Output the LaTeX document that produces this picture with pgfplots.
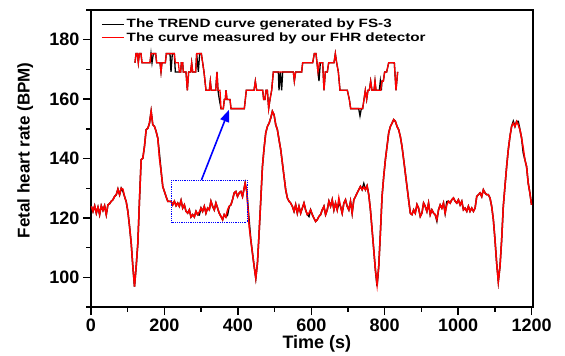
\documentclass[border=0pt]{standalone}
\usepackage{fontspec}
\setmainfont{Liberation Sans}
\newfontfamily\legfont[FakeStretch=1.27]{Liberation Sans}
\usepackage{pgfplots}
\pgfplotsset{compat=1.18}
\usetikzlibrary{arrows.meta}

\begin{document}
\begin{tikzpicture}
\begin{axis}[
  name=main, at={(0,0)}, anchor=south west,
  width=442pt, height=297pt, scale only axis,
  xmin=0, xmax=1204, ymin=90, ymax=190,
  xtick={0,200,...,1200}, ytick={100,120,...,180},
  minor xtick={100,300,...,1100}, minor ytick={90,110,...,190},
  tick pos=left, tick align=outside,
  major tick length=8pt, minor tick length=4.5pt,
  every tick/.append style={black, line width=1.4pt},
  axis line style={line width=1.6pt},
  /pgf/number format/assume math mode=true,
  /pgf/number format/1000 sep={},
  tick label style={font=\bfseries\fontsize{18}{20}\selectfont},
  xlabel={Time (s)}, ylabel={Fetal heart rate (BPM)},
  xlabel style={font=\bfseries\fontsize{18}{20}\selectfont, at={(axis description cs:0.511,-0.125)}, anchor=center},
  ylabel style={font=\bfseries\fontsize{17}{20}\selectfont, at={(axis description cs:-0.149,0.528)}, anchor=center, rotate=0},
  clip=false,
  legend style={draw=none, fill=none, at={(0,1)}, anchor=north west, xshift=7pt, yshift=-5pt,
    font=\legfont\bfseries\fontsize{12}{14}\selectfont, cells={anchor=west}, row sep=-1pt},
  legend image code/.code={\draw[#1, line width=1.5pt] (0pt,0pt) -- (22pt,0pt);},
]
\addplot[black, line width=1.5pt] table {
x y
0.9 123.9
5.4 122.2
10 124.1
14.5 121.6
19 123.6
23.5 121.1
28 124.1
32.6 122.5
37.1 124.1
41.6 121.1
46.1 124.4
50.7 124.8
55.2 125.6
59.7 126.1
64.2 127.2
68.8 127.8
73.3 129.7
77.8 127.8
82.4 130.0
86.9 129.0
91.4 127.2
95.9 125.5
100.4 122.2
105 117.1
109.5 111.5
114 103.6
118.5 96.9
123.1 103.7
127.6 111.5
132.1 126.1
136.6 139.6
141.2 140.1
145.7 144.1
150.2 149.7
154.8 150.2
159.3 151.9
163.8 155.9
168.3 151.4
172.9 150.8
177.4 149.1
181.9 146.9
186.4 141.5
191 135.7
195.5 130.6
200 128.9
204.5 127.2
209.1 125.6
218.1 125.6
222.6 124.4
227.2 125.6
231.7 124.1
236.2 125.0
240.7 123.9
245.3 125.9
249.8 123.3
254.3 124.4
258.8 122.2
263.4 121.6
267.9 122.7
272.4 120.3
276.9 121.1
281.5 120.3
286 122.2
290.5 121.1
295 121.0
299.6 123.3
304.1 122.2
308.6 123.9
313.1 121.6
317.7 123.3
322.2 122.7
326.7 125.6
331.2 123.9
335.8 122.7
340.3 125.0
344.8 123.3
349.3 121.6
353.9 120.5
358.4 119.4
362.9 121.1
367.4 120.3
372 121.0
376.5 123.9
381 124.4
385.5 126.1
390.1 128.4
394.6 128.9
399.1 127.2
403.6 128.4
408.2 128.9
412.7 127.2
417.2 130.0
419.9 131.7
424.4 128.9
430.8 119.0
435.3 112.6
439.8 108.2
444.4 103.7
448.9 99.7
453.4 104.8
457.9 114.9
462.5 126.1
467 137.3
471.5 143.5
476 148.6
480.6 150.8
485.1 151.9
489.6 153.6
494.1 155.9
498.7 154.7
503.2 151.4
507.7 149.7
512.2 146.3
516.8 143.0
521.3 138.5
525.8 134.0
530.3 129.5
534.9 126.7
539.4 125.6
543.9 125.0
548.4 123.9
553 122.2
557.5 124.4
562 121.6
566.5 123.9
571.1 121.6
575.6 123.3
580.1 125.0
584.6 122.7
589.2 121.1
593.7 120.5
598.2 122.7
602.8 121.1
607.3 119.9
611.8 118.8
616.4 119.4
620.9 120.5
625.4 121.1
629.9 122.7
634.5 123.9
639 121.1
643.5 122.7
648 125.6
652.6 123.9
657.1 126.1
661.6 122.7
666.1 125.0
670.7 122.7
675.2 125.0
679.7 123.9
684.2 121.6
688.8 125.0
693.3 126.1
697.8 123.9
702.3 122.7
706.9 125.6
711.4 121.6
715.9 126.1
720.4 127.2
725 128.4
729.5 129.5
734 130.6
738.5 129.5
743.1 131.5
747.6 129.5
752.1 130.8
756.6 127.8
761.2 122.7
765.7 116.0
770.2 109.3
774.7 102.5
779.3 97.0
783.8 103.7
788.3 114.9
792.8 127.2
797.4 134.0
801.9 139.6
806.4 144.1
810.9 148.6
815.5 150.8
820 151.9
824.5 153.1
829 152.5
833.6 150.8
838.1 149.7
842.6 147.4
847.1 144.1
851.7 139.6
856.2 135.1
860.7 130.6
865.2 126.1
869.8 121.6
874.3 121.1
878.8 122.7
883.3 121.6
888 124.5
892.3 123.3
896.9 120.5
901.4 121.6
905.9 125.0
910.4 123.9
915 122.2
919.5 125.0
924 121.1
928.5 122.7
933.1 121.6
937.6 121.1
942.1 119.0
946.6 122.7
951.2 124.4
955.7 123.3
960.2 125.0
964.7 121.6
969.3 125.5
973.8 125.6
978.3 125.0
982.8 126.1
987.4 126.7
991.9 125.6
996.4 125.0
1000.9 126.1
1005.5 124.4
1010 125.6
1014.5 122.7
1019 123.3
1023.6 122.2
1028.1 123.9
1032.6 122.2
1037.1 123.3
1041.7 122.2
1046.2 123.3
1050.7 127.2
1055.2 127.8
1059.8 128.4
1064.3 127.2
1068.8 129.5
1073.3 128.4
1077.9 127.8
1082.4 127.8
1086.9 126.7
1091.4 123.9
1096 119.4
1100.5 112.6
1105 104.8
1109.5 98.6
1114.1 103.7
1118.6 112.6
1123.1 123.9
1127.6 130.6
1132.2 137.3
1136.7 143.0
1141.2 147.4
1145.7 150.8
1150.3 152.5
1154.8 150.8
1159.3 152.5
1163.8 152.5
1168.4 149.7
1172.9 146.9
1177.4 142.0
1181.9 139.6
1186.5 137.3
1191 131.7
1195.5 128.4
1200 124.4
};
\addlegendentry{The TREND curve generated by FS-3}
\addplot[red, line width=1.5pt] table {
x y
0.9 123.9
5.4 122.2
10 124.1
14.5 121.6
19 123.6
23.5 121.1
28 124.1
32.6 122.5
37.1 124.1
41.6 121.1
46.1 124.4
50.7 124.8
55.2 125.6
59.7 126.1
64.2 127.2
68.8 127.8
73.3 129.7
77.8 127.8
82.4 130.0
86.9 129.7
91.4 127.2
95.9 125.5
100.4 122.2
105 117.1
109.5 111.5
114 103.6
118.5 96.9
123.1 103.7
127.6 111.5
132.1 126.1
136.6 139.6
141.2 140.1
145.7 144.1
150.2 149.7
154.8 150.2
159.3 151.9
163.8 155.9
168.3 151.4
172.9 150.8
177.4 149.1
181.9 146.9
186.4 140.1
191 135.7
195.5 130.6
200 128.9
204.5 127.2
209.1 125.6
218.1 125.6
222.6 124.4
227.2 125.6
231.7 124.1
236.2 125.0
240.7 123.9
245.3 125.9
249.8 123.3
254.3 124.4
258.8 122.2
263.4 121.6
267.9 122.7
272.4 120.3
276.9 121.1
281.5 120.3
286 122.2
290.5 121.1
295 122.0
299.6 123.3
304.1 122.2
308.6 123.9
313.1 121.6
317.7 123.3
322.2 122.7
326.7 125.6
331.2 123.9
335.8 122.7
340.3 125.0
344.8 123.3
349.3 121.6
353.9 120.5
358.4 119.4
362.9 121.1
367.4 120.3
372 122.7
376.5 123.9
381 124.4
385.5 126.1
390.1 128.4
394.6 128.9
399.1 127.2
403.6 128.4
408.2 128.9
412.7 127.2
417.2 130.0
419.9 131.7
424.4 128.9
430.8 117.1
435.3 112.6
439.8 108.2
444.4 103.7
448.9 99.7
453.4 104.8
457.9 114.9
462.5 126.1
467 137.3
471.5 143.5
476 148.6
480.6 150.8
485.1 151.9
489.6 153.6
494.1 155.9
498.7 154.7
503.2 151.4
507.7 149.7
512.2 146.3
516.8 143.0
521.3 138.5
525.8 134.0
530.3 129.5
534.9 126.7
539.4 125.6
543.9 125.0
548.4 123.9
553 122.2
557.5 124.4
562 121.6
566.5 123.9
571.1 121.6
575.6 123.3
580.1 125.0
584.6 122.7
589.2 121.1
593.7 121.6
598.2 122.7
602.8 121.1
607.3 119.9
611.8 118.8
616.4 119.4
620.9 120.5
625.4 121.1
629.9 122.7
634.5 123.9
639 121.1
643.5 122.7
648 125.6
652.6 123.9
657.1 126.1
661.6 122.7
666.1 125.0
670.7 122.7
675.2 126.7
679.7 123.9
684.2 121.6
688.8 125.0
693.3 126.1
697.8 123.9
702.3 122.7
706.9 125.6
711.4 121.6
715.9 126.1
720.4 127.2
725 128.4
729.5 129.5
734 130.6
738.5 129.5
743.1 130.4
747.6 129.5
752.1 130.8
756.6 127.8
761.2 122.7
765.7 116.0
770.2 109.3
774.7 102.5
779.3 97.5
783.8 103.7
788.3 114.9
792.8 127.2
797.4 134.0
801.9 139.6
806.4 144.1
810.9 148.6
815.5 150.8
820 151.9
824.5 153.1
829 152.5
833.6 150.8
838.1 149.7
842.6 147.4
847.1 144.1
851.7 139.6
856.2 135.1
860.7 130.6
865.2 126.1
869.8 121.6
874.3 121.1
878.8 122.7
883.3 121.6
888 124.5
892.3 123.3
896.9 120.5
901.4 121.6
905.9 125.0
910.4 123.9
915 122.2
919.5 125.0
924 121.1
928.5 122.7
933.1 121.6
937.6 121.1
942.1 119.4
946.6 122.7
951.2 124.4
955.7 123.3
960.2 125.0
964.7 121.6
969.3 124.4
973.8 125.6
978.3 125.0
982.8 126.1
987.4 126.7
991.9 125.6
996.4 125.0
1000.9 126.1
1005.5 124.4
1010 125.6
1014.5 122.7
1019 123.3
1023.6 122.2
1028.1 123.9
1032.6 122.2
1037.1 123.3
1041.7 122.2
1046.2 123.3
1050.7 127.2
1055.2 127.8
1059.8 128.4
1064.3 127.2
1068.8 129.5
1073.3 128.4
1077.9 127.8
1082.4 127.8
1086.9 126.7
1091.4 123.9
1096 119.4
1100.5 112.6
1105 104.8
1109.5 98.6
1114.1 103.7
1118.6 112.6
1123.1 123.9
1127.6 130.6
1132.2 137.3
1136.7 143.0
1141.2 147.4
1145.7 150.8
1150.3 151.9
1154.8 150.8
1159.3 152.5
1163.8 151.4
1168.4 149.7
1172.9 146.9
1177.4 143.5
1181.9 139.6
1186.5 137.3
1191 131.7
1195.5 128.4
1200 124.4
};
\addlegendentry{The curve measured by our FHR detector}
\draw[blue, densely dotted, line width=0.8pt] (axis cs:219,118.5) rectangle (axis cs:425,132.6);
\draw[blue, line width=1.6pt, -{Triangle[length=12pt, width=9pt]}] (axis cs:301,132.8) -- (axis cs:376,156.4);
\end{axis}
\begin{axis}[at={(39pt,198.4pt)}, anchor=south west, width=280pt, height=55pt, scale only axis,
  hide axis, xmin=0, xmax=840, ymin=0, ymax=6, clip=false]
\addplot[black, line width=1.3pt] table {
x y
15 5
18 6
22 6
25 5
28 6
33 6
36 5
60 5
63 6
66 5
70 6
77 6
80 5
90 5
93 4
96 5
106 5
109 6
120 6
123 4
127 6
133 6
136 4
145 4
148 4
152 4
154 5
158 5
160 4
168 4
172 2
176 4
182 4
185 5
188 4
197 4
200 6
205 4
209 6
214 6
218 5
222 4
228 2
238 2
241 3
244 2
257 2
261 4
264 2
268 1
273 0
280 0
283 1
286 1
288 2
291 1
300 1
303 0
343 0
346 1
349 2
372 2
376 3
380 2
398 2
401 1
405 1
408 2
412 2
416 0
420 1
425 2
430 4
445 4
447 2
451 4
455 2
458 4
490 4
493 3
497 4
515 4
518 5
548 5
553 6
558 6
561 5
564 4
567 3
571 5
578 5
582 2
586 4
592 4
596 5
612 5
616 6
620 5
625 4
630 2
652 2
658 1
662 0
686 0
690 -0.8
694 0
698 0
702 1
706 2
710 1
714 2
718 2
722 3
726 2
732 2
735 3
738 2
748 2
751 3
754 2
756 3
760 3
764 4
770 4
776 5
793 5
798 2
803 4
};
\addplot[red, line width=1.3pt] table {
x y
15 5
18 6
22 6
25 5
28 6
33 6
36 5
60 5
63 6
77 6
80 5
90 5
93 4
96 5
106 5
109 6
133 6
136 5
145 5
148 4
152 4
154 5
158 5
160 4
168 4
172 2
176 4
182 4
185 5
188 4
197 4
200 6
214 6
218 5
222 4
228 2
238 2
241 3
244 2
257 2
261 4
264 2
270 2
273 0
280 0
283 1
286 1
288 2
291 1
300 1
303 0
343 0
346 1
349 2
372 2
376 3
380 2
398 2
401 1
405 1
408 2
412 2
416 0
420 1
425 2
430 4
490 4
493 3
497 4
515 4
518 5
548 5
553 6
558 6
561 5
564 4
568 5
578 5
582 2
586 4
592 4
596 5
612 5
616 6
620 5
625 4
630 2
652 2
658 1
662 0
698 0
702 1
706 2
710 1
714 2
718 2
722 3
726 2
732 2
735 3
738 2
752 2
756 3
760 3
764 4
770 4
776 5
793 5
798 2
803 4
};
\end{axis}
\path (main.south west) ++(-91pt,-47.3pt) rectangle ([shift={(32pt,10pt)}]main.north east);
\end{tikzpicture}
\end{document}
